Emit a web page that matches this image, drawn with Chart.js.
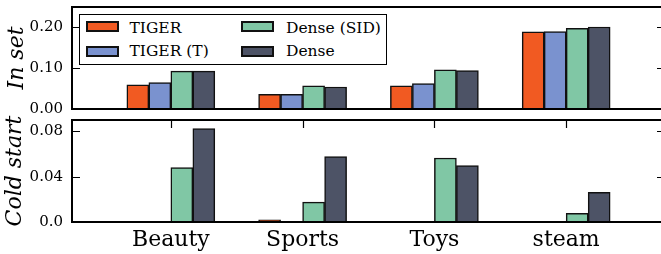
<!DOCTYPE html>
<html lang="en">
<head>
  <meta charset="UTF-8">
  <title>In set / Cold start</title>
  <script src="https://cdn.jsdelivr.net/npm/chart.js"></script>
  <style>
    body, html {
      margin: 0;
      background: #fff;
    }
    #wrap {
      position: relative;
      width: 661px;
      height: 254px;
      overflow: hidden;
      font-family: 'DejaVu Serif', 'Liberation Serif', serif;
    }
    .panel {
      position: absolute;
      left: 0;
      width: 672px;
    }
    #legend {
      position: absolute;
      left: 79px;
      top: 14px;
      width: 308px;
      height: 51px;
      box-sizing: border-box;
      border: 1.5px solid #000;
      background: #fff;
    }
    .item {
      position: absolute;
      font-size: 15.5px;
      line-height: 16px;
      white-space: nowrap;
    }
    .swatch {
      position: absolute;
      width: 33px;
      height: 11px;
      box-sizing: border-box;
      border: 2px solid #111;
    }
  </style>
</head>
<body>
  <div id="wrap">
    <div class="panel" style="top:0;height:120px"><canvas id="topChart"></canvas></div>
    <div class="panel" style="top:112px;height:142px"><canvas id="bottomChart"></canvas></div>
    <div id="legend"></div>
  </div>

  <script>
    // data
    var categories = ['Beauty', 'Sports', 'Toys', 'steam'];
    var seriesNames = ['TIGER', 'TIGER (T)', 'Dense (SID)', 'Dense'];
    var seriesColors = ['#f15a22', '#7a92cf', '#80c7a5', '#4d5366'];

    // "In set" panel
    var inSetTiger = [0.059, 0.036, 0.057, 0.189];
    var inSetTigerT = [0.065, 0.036, 0.062, 0.190];
    var inSetDenseSid = [0.093, 0.057, 0.096, 0.198];
    var inSetDense = [0.093, 0.054, 0.094, 0.201];

    // "Cold start" panel
    var coldTiger = [0.0, 0.002, 0.0, 0.0];
    var coldTigerT = [0.0, 0.0, 0.0, 0.0];
    var coldDenseSid = [0.048, 0.0175, 0.0565, 0.0077];
    var coldDense = [0.0825, 0.0577, 0.0497, 0.0262];

    var inSetTicks = [0, 0.1, 0.2];
    var coldTicks = [0, 0.04, 0.08];

    Chart.defaults.font.family = "'DejaVu Serif', 'Liberation Serif', serif";
    Chart.defaults.color = '#000';

    function makeDatasets(seriesList) {
      return seriesList.map(function(values, i) {
        return {
          label: seriesNames[i],
          data: values.map(function(v, j) { return { x: j, y: v }; }),
          backgroundColor: seriesColors[i],
          borderColor: '#111',
          borderWidth: 1.5,
          borderSkipped: 'start',
          barThickness: 22
        };
      });
    }

    // frame + inward ticks, matplotlib style
    var framePlugin = {
      id: 'frame',
      afterDraw: function(chart, args, opts) {
        var ctx = chart.ctx;
        var a = chart.chartArea;
        var y = chart.scales.y;
        var x = chart.scales.x;
        ctx.save();
        ctx.strokeStyle = '#000';
        ctx.lineWidth = 1.2;
        y.ticks.forEach(function(t) {
          var py = Math.round(y.getPixelForValue(t.value)) + 0.5;
          ctx.beginPath();
          ctx.moveTo(a.left, py); ctx.lineTo(a.left + 8, py);
          ctx.moveTo(a.right, py); ctx.lineTo(a.right - 8, py);
          ctx.stroke();
        });
        if (opts.topTicks) {
          x.ticks.forEach(function(t) {
            var px = Math.round(x.getPixelForValue(t.value)) + 0.5;
            ctx.beginPath();
            ctx.moveTo(px, a.top); ctx.lineTo(px, a.top + 8);
            ctx.stroke();
          });
        }
        ctx.lineWidth = 2;
        ctx.strokeRect(a.left, a.top, a.right - a.left, a.bottom - a.top);
        ctx.restore();
      }
    };

    function makeChart(id, datasets, yMax, yTicks, yTitle, fmt, showX, padTop, padBottom, titlePad) {
      return new Chart(document.getElementById(id), {
        type: 'bar',
        data: { datasets: datasets },
        plugins: [framePlugin],
        options: {
          responsive: true,
          maintainAspectRatio: false,
          animation: false,
          layout: { padding: { left: 0, right: 7, top: padTop, bottom: padBottom } },
          plugins: {
            legend: { display: false },
            tooltip: { enabled: false },
            frame: { topTicks: showX }
          },
          scales: {
            x: {
              type: 'linear',
              min: -0.75,
              max: 3.75,
              offset: false,
              display: showX,
              grid: { display: false, drawTicks: false, offset: false },
              border: { display: false },
              ticks: {
                font: { size: 22 },
                padding: 5,
                maxRotation: 0,
                callback: function(v) { return categories[v]; }
              },
              afterBuildTicks: function(scale) {
                scale.ticks = categories.map(function(c, i) { return { value: i }; });
              },
              afterFit: function(scale) {
                if (showX) scale.height = 32;
                scale.paddingLeft = 0;
                scale.paddingRight = 0;
              }
            },
            y: {
              min: 0,
              max: yMax,
              grid: { display: false, drawTicks: false },
              border: { display: false },
              ticks: {
                font: { size: 15 },
                padding: 9,
                callback: fmt
              },
              title: {
                display: true,
                text: yTitle,
                font: { size: 22, style: 'italic' },
                padding: { top: titlePad, bottom: 0 }
              },
              afterBuildTicks: function(scale) {
                scale.ticks = yTicks.map(function(v) { return { value: v }; });
              },
              afterFit: function(scale) {
                scale.width = 72;
                scale.paddingTop = 0;
                scale.paddingBottom = 0;
              }
            }
          }
        }
      });
    }

    makeChart('topChart',
      makeDatasets([inSetTiger, inSetTigerT, inSetDenseSid, inSetDense]),
      0.25, inSetTicks, 'In set',
      function(v) { return v.toFixed(2); },
      false, 7, 11, 4);

    makeChart('bottomChart',
      makeDatasets([coldTiger, coldTigerT, coldDenseSid, coldDense]),
      0.09, coldTicks, 'Cold start',
      function(v) { return v === 0 ? '0.0' : v.toFixed(2); },
      true, 8, 0, 2);

    // legend, two columns
    var legend = document.getElementById('legend');
    var cols = [5.5, 160.5];
    var gaps = [44, 45.5];
    var swatchRows = [6, 31];
    var textRows = [5, 27.5];
    seriesNames.forEach(function(name, i) {
      var col = Math.floor(i / 2), row = i % 2;
      var sw = document.createElement('div');
      sw.className = 'swatch';
      sw.style.left = cols[col] + 'px';
      sw.style.top = swatchRows[row] + 'px';
      sw.style.background = seriesColors[i];
      legend.appendChild(sw);
      var label = document.createElement('div');
      label.className = 'item';
      label.style.left = (cols[col] + gaps[col]) + 'px';
      label.style.top = textRows[row] + 'px';
      label.textContent = name;
      legend.appendChild(label);
    });
  </script>
</body>
</html>
